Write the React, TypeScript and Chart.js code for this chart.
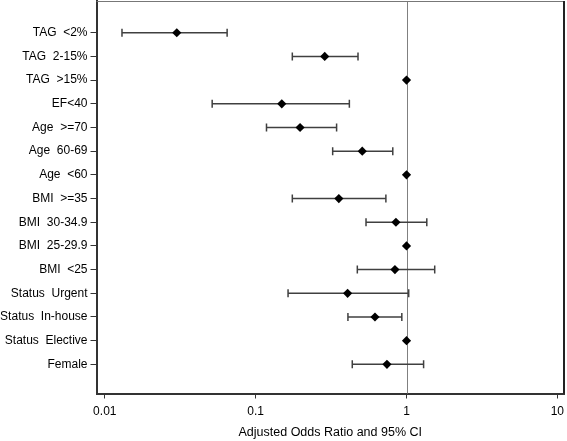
import React, { useEffect, useRef } from "react";
import { Chart, registerables } from "chart.js";

Chart.register(...registerables);

const categories = [
  "TAG  <2%",
  "TAG  2-15%",
  "TAG  >15%",
  "EF<40",
  "Age  >=70",
  "Age  60-69",
  "Age  <60",
  "BMI  >=35",
  "BMI  30-34.9",
  "BMI  25-29.9",
  "BMI  <25",
  "Status  Urgent",
  "Status  In-house",
  "Status  Elective",
  "Female",
];
const oddsRatios = [0.03, 0.287, 1, 0.149, 0.197, 0.509, 1, 0.356, 0.851, 1, 0.838, 0.407, 0.618, 1, 0.742];
const ciLower = [0.013, 0.175, 1, 0.0515, 0.118, 0.324, 1, 0.175, 0.539, 1, 0.472, 0.164, 0.409, 1, 0.437];
const ciUpper = [0.0647, 0.477, 1, 0.418, 0.344, 0.811, 1, 0.73, 1.363, 1, 1.538, 1.034, 0.931, 1, 1.298];
const xTicks = [0.01, 0.1, 1, 10];
const xTitle = "Adjusted Odds Ratio and 95% CI";
const referenceValue = 1;

const FONT = "'Liberation Sans', Arial, sans-serif";

export default function App() {
  const ref = useRef<HTMLCanvasElement | null>(null);

  useEffect(() => {
    if (!ref.current) return;
    const errorBars = {
      id: "errorBars",
      beforeDatasetsDraw(chart: any) {
        const { ctx, chartArea, scales } = chart;
        const xs = scales.x;
        const ys = scales.y;
        ctx.save();
        const rx = Math.round(xs.getPixelForValue(referenceValue)) + 0.5;
        ctx.strokeStyle = "#808080";
        ctx.lineWidth = 1;
        ctx.beginPath();
        ctx.moveTo(rx, chartArea.top);
        ctx.lineTo(rx, chartArea.bottom);
        ctx.stroke();
        ctx.strokeStyle = "#404040";
        ctx.lineWidth = 1.5;
        for (let i = 0; i < categories.length; i++) {
          if (ciLower[i] === ciUpper[i]) continue;
          const y = ys.getPixelForValue(i);
          const x1 = xs.getPixelForValue(ciLower[i]);
          const x2 = xs.getPixelForValue(ciUpper[i]);
          ctx.beginPath();
          ctx.moveTo(x1, y);
          ctx.lineTo(x2, y);
          ctx.moveTo(x1, y - 4);
          ctx.lineTo(x1, y + 4);
          ctx.moveTo(x2, y - 4);
          ctx.lineTo(x2, y + 4);
          ctx.stroke();
        }
        ctx.restore();
      },
      afterDraw(chart: any) {
        const { ctx, chartArea } = chart;
        ctx.save();
        ctx.strokeStyle = "#777";
        ctx.lineWidth = 1;
        ctx.beginPath();
        ctx.moveTo(chartArea.left, chartArea.top + 0.5);
        ctx.lineTo(chartArea.right, chartArea.top + 0.5);
        ctx.stroke();
        ctx.strokeStyle = "#222";
        ctx.lineWidth = 2;
        ctx.beginPath();
        ctx.moveTo(chartArea.right, chartArea.top);
        ctx.lineTo(chartArea.right, chartArea.bottom);
        ctx.stroke();
        ctx.restore();
      },
    };

    const chart = new Chart(ref.current, {
      type: "scatter",
      data: {
        datasets: [
          {
            data: oddsRatios.map((v, i) => ({ x: v, y: i })),
            pointStyle: "rectRot",
            pointRadius: 4.6,
            backgroundColor: "#000",
            borderColor: "#000",
            borderWidth: 0,
          },
        ],
      },
      options: {
        responsive: false,
        animation: false,
        layout: { autoPadding: false, padding: { top: 1, right: 3, left: 0, bottom: 0 } },
        plugins: { legend: { display: false }, tooltip: { enabled: false } },
        scales: {
          x: {
            type: "logarithmic",
            min: Math.pow(10, -2.055),
            max: Math.pow(10, 1.044),
            afterBuildTicks: (s: any) => {
              s.ticks = xTicks.map((v) => ({ value: v }));
            },
            afterFit: (s: any) => {
              s.height = 47.5;
              s.paddingLeft = 0;
              s.paddingRight = 0;
            },
            ticks: {
              color: "#000",
              font: { family: FONT, size: 12 },
              padding: 6,
              maxRotation: 0,
              autoSkip: false,
              callback: (v: any) => String(v),
            },
            grid: { drawOnChartArea: false, drawTicks: true, tickLength: 5, color: "#333" },
            border: { display: true, color: "#333", width: 2 },
            title: {
              display: true,
              text: xTitle,
              color: "#000",
              font: { family: FONT, size: 12.5 },
              padding: { top: 0, bottom: 1 },
            },
          },
          y: {
            type: "linear",
            reverse: true,
            min: -1.34,
            max: categories.length - 1 + 1.23,
            afterBuildTicks: (s: any) => {
              s.ticks = categories.map((_, i) => ({ value: i }));
            },
            afterFit: (s: any) => {
              s.width = 96.5;
              s.paddingTop = 0;
              s.paddingBottom = 0;
            },
            ticks: {
              color: "#000",
              font: { family: FONT, size: 12 },
              padding: 3,
              autoSkip: false,
              callback: (v: any) => categories[v] ?? "",
            },
            grid: { drawOnChartArea: false, drawTicks: true, tickLength: 6, color: "#333" },
            border: { display: true, color: "#333", width: 2 },
          },
        },
      },
      plugins: [errorBars],
    });
    return () => chart.destroy();
  }, []);

  return (
    <div style={{ position: "absolute", left: 0, top: 0, width: 567, height: 441, background: "#fff" }}>
      <canvas ref={ref} width={567} height={441} style={{ display: "block" }} />
    </div>
  );
}
